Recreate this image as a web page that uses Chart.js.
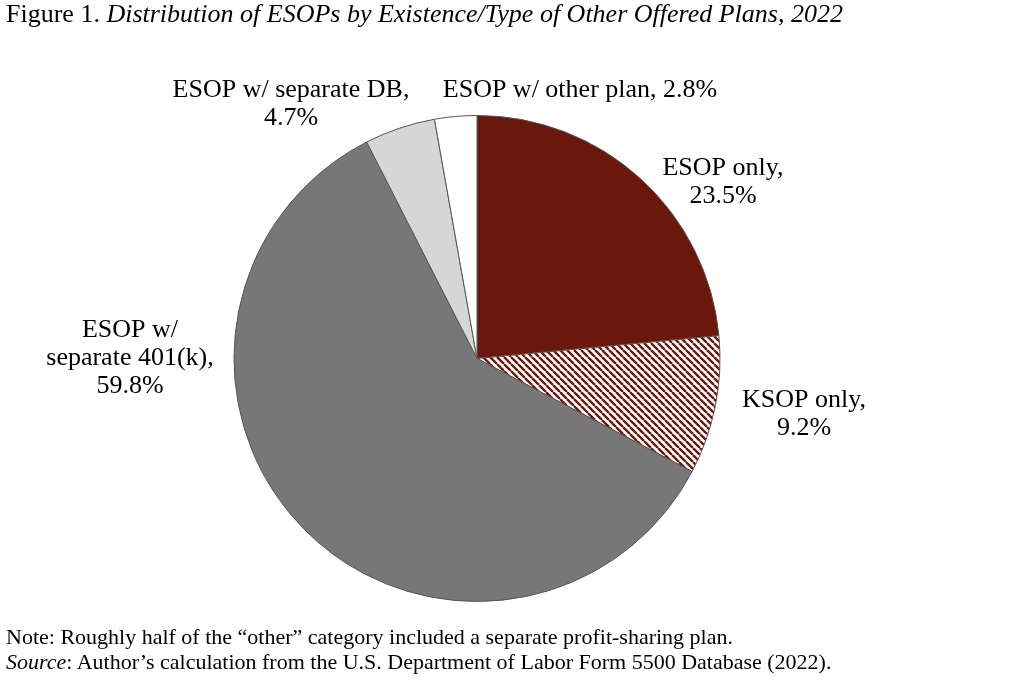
<!DOCTYPE html>
<html>
<head>
<meta charset="utf-8">
<script src="https://cdn.jsdelivr.net/npm/chart.js@4.4.1/dist/chart.umd.min.js"></script>
<style>
  html, body { margin: 0; padding: 0; background: #fff; }
  #wrap { position: relative; width: 1024px; height: 680px; overflow: hidden; font-family: "Liberation Serif", "Times New Roman", serif; color: #000; }
  #c { position: absolute; left: 0; top: 0; }
  .txt { position: absolute; white-space: nowrap; }
  #title { left: 6px; top: -1px; font-size: 26px; }
  #note1 { left: 6px; top: 624px; font-size: 22px; }
  #note2 { left: 6px; top: 649px; font-size: 22px; }
</style>
</head>
<body>
<div id="wrap">
  <canvas id="c" width="1024" height="680"></canvas>
  <div id="title" class="txt">Figure 1. <i>Distribution of ESOPs by Existence/Type of Other Offered Plans, 2022</i></div>
  <div id="note1" class="txt">Note: Roughly half of the “other” category included a separate profit-sharing plan.</div>
  <div id="note2" class="txt"><i>Source</i>: Author’s calculation from the U.S. Department of Labor Form 5500 Database (2022).</div>
</div>
<script>
// ---- data ----
const categories = ["ESOP only", "KSOP only", "ESOP w/ separate 401(k)", "ESOP w/ separate DB", "ESOP w/ other plan"];
const shares = [23.5, 9.2, 59.8, 4.7, 2.8];
const labelLines = [
  ["ESOP only,", "23.5%"],
  ["KSOP only,", "9.2%"],
  ["ESOP w/", "separate 401(k),", "59.8%"],
  ["ESOP w/ separate DB,", "4.7%"],
  ["ESOP w/ other plan, 2.8%"]
];

// ---- styles ----
const darkRed = "#6a180c";
function makeHatch() {
  const s = 7;
  const pc = document.createElement("canvas");
  pc.width = s; pc.height = s;
  const p = pc.getContext("2d");
  p.fillStyle = "#ffffff";
  p.fillRect(0, 0, s, s);
  p.strokeStyle = darkRed;
  p.lineWidth = 2.4;
  p.beginPath();
  for (let k = -1; k <= 1; k++) {
    p.moveTo(k * s, 0);
    p.lineTo(k * s + s, s);
  }
  p.stroke();
  return p.createPattern(pc, "repeat");
}
const ctx0 = document.getElementById("c").getContext("2d");
const fills = [darkRed, makeHatch(), "#777777", "#d6d6d6", "#ffffff"];
const labelPos = [
  [723, 175],
  [804, 407],
  [130, 337],
  [291, 97],
  [580, 97]
];

const labelPlugin = {
  id: "pieLabels",
  afterDraw(chart) {
    const ctx = chart.ctx;
    ctx.save();
    ctx.font = '26px "Liberation Serif", "Times New Roman", serif';
    ctx.fillStyle = "#000";
    ctx.textAlign = "center";
    ctx.textBaseline = "alphabetic";
    labelLines.forEach((lines, i) => {
      const [x, y] = labelPos[i];
      lines.forEach((t, j) => ctx.fillText(t, x, y + j * 28));
    });
    ctx.restore();
  }
};

new Chart(ctx0, {
  type: "pie",
  data: {
    labels: categories,
    datasets: [{
      data: shares,
      backgroundColor: fills,
      borderColor: "#555555",
      borderWidth: 1,
      hoverOffset: 0
    }]
  },
  options: {
    responsive: false,
    animation: false,
    rotation: 0,
    layout: { padding: { left: 233, right: 303, top: 115, bottom: 78 } },
    plugins: {
      legend: { display: false },
      tooltip: { enabled: false },
      title: { display: false }
    }
  },
  plugins: [labelPlugin]
});
</script>
</body>
</html>
